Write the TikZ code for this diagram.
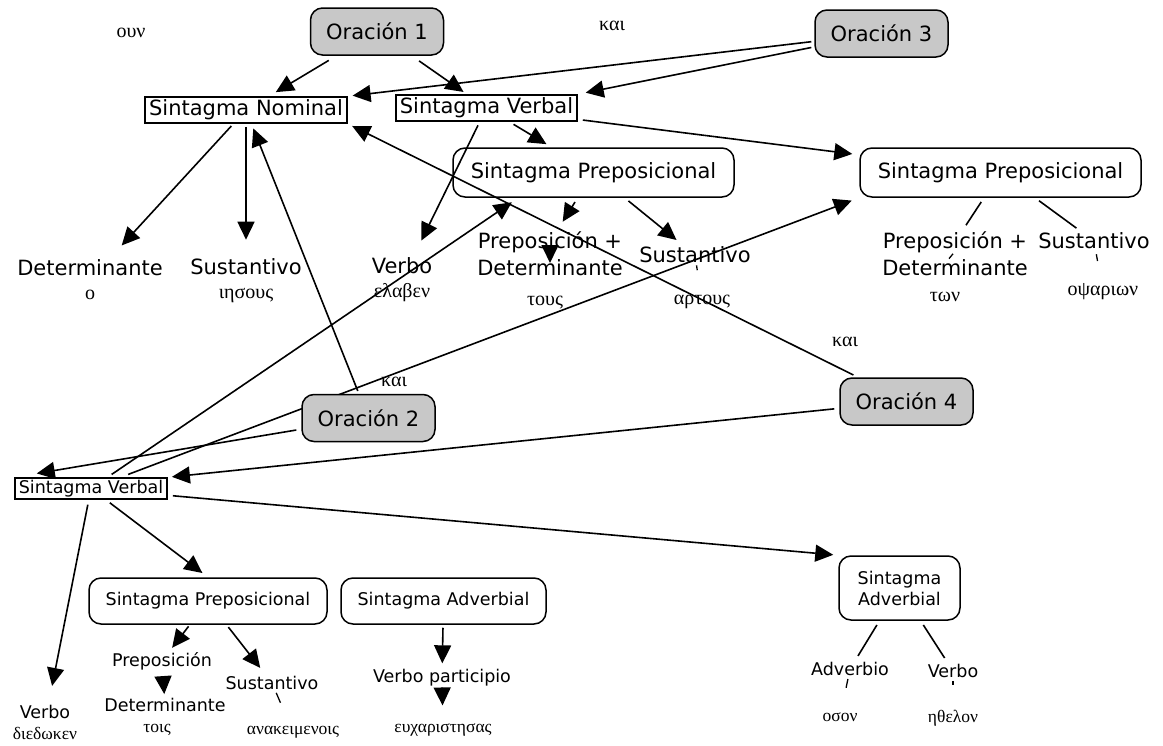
\documentclass[tikz,border=0pt]{standalone}
\usepackage{fontspec}
\setmainfont{DejaVu Sans}
\newfontfamily\grk{Liberation Serif}
\usepackage{tikz}
\usetikzlibrary{arrows.meta, backgrounds}
\definecolor{oraGray}{HTML}{C8C8C8}
\newcommand\topfont{\fontsize{21}{24}\selectfont}
\newcommand\lowfont{\fontsize{17.5}{21}\selectfont}
\newcommand\gktop{\grk\fontsize{20}{24}\selectfont}
\newcommand\gklow{\grk\fontsize{17.5}{21}\selectfont}

\begin{document}
\begin{tikzpicture}[x=1pt, y=-1pt,
        ora/.style={draw, fill=oraGray, rounded corners=12pt, line width=1.5pt, minimum width=133pt, minimum height=47pt, inner sep=0pt, font=\topfont},
        sbox/.style={draw, line width=1.5pt, inner xsep=4pt, inner ysep=0pt, minimum height=26pt, font=\topfont},
        rbox/.style={draw, rounded corners=12pt, line width=1.5pt, inner sep=0pt, minimum width=281pt, minimum height=49pt, font=\topfont, align=center},
        word/.style={inner sep=1pt, font=\topfont, align=center},
        lword/.style={inner sep=1pt, font=\lowfont, align=center},
        gk/.style={inner sep=1pt, font=\gktop},
        lgk/.style={inner sep=1pt, font=\gklow},
        arr/.style={-{Triangle[length=18pt,width=17pt]}, line width=1.6pt, shorten <=5pt, shorten >=5pt},
        ln/.style={line width=1.6pt, shorten <=5pt, shorten >=6pt}]
        \useasboundingbox (0,0) rectangle (1163,745);
        % oraciones y conectores sueltos
        \node[ora] (o1) at (377,31.5) {Oración 1};
        \node[ora] (o3) at (881.5,33.5) {Oración 3};
        \node[ora] (o2) at (368.5,418) {Oración 2};
        \node[ora] (o4) at (906.5,401.5) {Oración 4};
        \node[gk] (oun) at (131,33) {ουν};
        \node[gk] (kai1) at (612,26) {και};
        \node[gk] (kai2) at (394,382) {και};
        \node[gk] (kai3) at (845,342) {και};
        % parte de arriba
        \node[sbox] (sn) at (246,110) {Sintagma Nominal};
        \node[sbox] (sv1) at (486.5,108) {Sintagma Verbal};
        \node[rbox] (sp1) at (593.5,172.5) {Sintagma Preposicional};
        \node[rbox] (sp2) at (1000.5,172.5) {Sintagma Preposicional};
        \node[word] (det1) at (90,280) {Determinante\\{\gktop ο}};
        \node[word] (sus1) at (246,281) {Sustantivo\\{\gktop ιησους}};
        \node[word] (vrb1) at (402,280) {Verbo\\{\gktop ελαβεν}};
        \node[word] (pd1a) at (550,242) {Preposición +};
        \node[word] (pd1b) at (550,268) {Determinante};
        \node[gk] (pd1g) at (545,303) {τους};
        \node[word] (sus2) at (695,255) {Sustantivo};
        \node[gk] (sus2g) at (702,302) {αρτους};
        \node[word] (pd2a) at (955,242) {Preposición +};
        \node[word] (pd2b) at (955,268) {Determinante};
        \node[gk] (pd2g) at (945,297) {των};
        \node[word] (sus3) at (1094,241) {Sustantivo};
        \node[gk] (sus3g) at (1103,292) {οψαριων};
        % parte de abajo
        \node[sbox, font=\lowfont, minimum height=21pt] (sv2) at (91,488.5) {Sintagma Verbal};
        \node[rbox, font=\lowfont, minimum width=238pt, minimum height=46pt] (sp3) at (208,601) {Sintagma Preposicional};
        \node[rbox, font=\lowfont, minimum width=205pt, minimum height=46pt] (sadv1) at (443.5,601) {Sintagma Adverbial};
        \node[rbox, font=\lowfont, minimum width=121pt, minimum height=64pt] (sadv2) at (899.5,588) {Sintagma\\Adverbial};
        \node[lword] (vrb2) at (45,722) {Verbo\\{\gklow διεδωκεν}};
        \node[lword] (prep3) at (162,661) {Preposición};
        \node[lword] (det3) at (165,705) {Determinante};
        \node[lgk] (det3g) at (157,730) {τοις};
        \node[lword] (sus4) at (272,683) {Sustantivo};
        \node[lgk] (sus4g) at (293,732) {ανακειμενοις};
        \node[lword] (vpart) at (442,678) {Verbo participio};
        \node[lgk] (vpartg) at (443,730) {ευχαριστησας};
        \node[lword] (adv) at (850,669) {Adverbio};
        \node[lgk] (advg) at (840,717) {οσον};
        \node[lword] (vrb3) at (953,671) {Verbo};
        \node[lgk] (vrb3g) at (953,718) {ηθελον};
        % enlaces
        \begin{scope}[on background layer]
          \draw[arr, shorten <=8pt, shorten >=8pt] (sv2) -- (sp2.south west);
        \end{scope}
        \draw[arr, shorten <=9pt, shorten >=8pt] (o1) -- (sn);
        \draw[arr, shorten <=9pt, shorten >=4pt] (o1) -- (sv1);
        \draw[arr, shorten <=3pt] (o3) -- (sn.north east);
        \draw[arr, shorten <=3pt, shorten >=8pt] (o3) -- (sv1.north east);
        \draw[arr, shorten <=3pt] (o2) -- (sn);
        \draw[arr, shorten <=5pt] (o4) -- (sn.south east);
        \draw[arr, shorten <=3pt, shorten >=18pt] (sn) -- (det1);
        \draw[arr, shorten <=3pt, shorten >=18pt] (sn) -- (sus1);
        \draw[arr, shorten <=4pt, shorten >=18pt] (sv1) -- (vrb1);
        \draw[arr, shorten >=6pt] (sv1) -- (sp1);
        \draw[arr, shorten >=7pt] (sv1) -- (sp2);
        \draw[arr, shorten >=10pt] (sp1) -- (pd1a);
        \draw[arr, shorten <=4pt] (pd1a.center) -- (pd1b.center);
        \draw[arr, shorten >=9pt] (sp1) -- (sus2);
        \draw[ln] (sp2) -- (pd2a);
        \draw[line width=1.3pt] ([xshift=-2pt]pd2a.south) -- ([xshift=-6pt]pd2b.north);
        \draw[ln] (sp2) -- (sus3);
        \draw[line width=1.3pt, shorten <=1pt, shorten >=24pt] (sus2) -- (sus2g);
        \draw[line width=1.3pt, shorten <=4pt, shorten >=22pt] (sus3) -- (sus3g);
        \draw[arr, shorten >=23pt] (o2) -- (sv2.north west);
        \draw[arr, shorten >=4pt] (o4) -- (sv2.north east);
        \draw[arr, shorten >=8pt] (sv2) -- ([xshift=-75pt]sp1.south);
        \draw[arr, shorten >=18pt] (sv2) -- (vrb2);
        \draw[arr, shorten >=7pt] (sv2) -- (sp3.north);
        \draw[arr] (sv2) -- (sadv2.north west);
        \draw[arr, shorten <=2pt, shorten >=4pt] (sp3) -- (prep3);
        \draw[arr, shorten <=7pt, shorten >=3pt] (prep3) -- (det3);
        \draw[arr, shorten <=3pt, shorten >=9pt] (sp3) -- (sus4);
        \draw[line width=1.3pt, shorten <=2pt, shorten >=24pt] (sus4) -- (sus4g);
        \draw[arr, shorten <=3pt, shorten >=5pt] (sadv1) -- (vpart);
        \draw[arr, shorten <=0pt, shorten >=17pt] (vpart) -- (vpartg);
        \draw[ln] (sadv2) -- (adv);
        \draw[ln] (sadv2) -- (vrb3);
        \draw[line width=1.3pt, shorten <=2pt, shorten >=24pt] (adv) -- (advg);
        \draw[line width=1.3pt, shorten <=2pt, shorten >=24pt] (vrb3) -- (vrb3g);
      \end{tikzpicture}
\end{document}
